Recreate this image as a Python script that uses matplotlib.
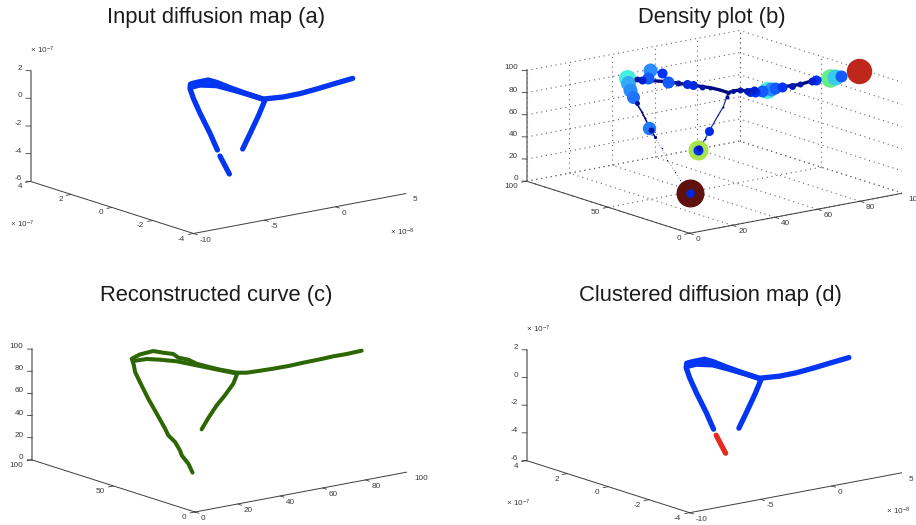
import numpy as np
import matplotlib
matplotlib.use('Agg')
import matplotlib.pyplot as plt
from matplotlib.colors import LinearSegmentedColormap
from mpl_toolkits.mplot3d import proj3d

plt.rcParams['font.family'] = ['Liberation Sans', 'DejaVu Sans']
plt.rcParams['mathtext.default'] = 'regular'

# diffusion map, panels (a) and (d), x in 1e-8, y and z in 1e-7
am_x = [-1.43, -1.09, -0.93, -0.54, 0.08, -0.51, -0.72, -0.54, -0.59, -0.29, 0.25, 0.78, 1.59, 2.16, 2.74, 3.31, 4.08]
am_y = [0.8, 1.4, 2.0, 2.6, 3.2, 2.76, 2.31, 1.87, 1.42, 0.98, 0.53, 0.09, -0.33, -0.75, -1.17, -1.58, -2.0]
am_z = [-3.88, -3.02, -1.89, -1.17, -0.85, -0.21, 0.16, 0.5, 0.55, 0.32, -0.01, -0.29, -0.1, 0.23, 0.65, 1.09, 1.55]
ab_x = [0.13, -0.17, 0.05, 0.27, 0.48, 0.56, -0.96, -2.58, -4.24]
ab_y = [3.2, 2.53, 1.87, 1.2, 0.53, -0.15, -0.9, -1.65, -2.4]
ab_z = [-0.78, -0.24, -0.02, -0.07, -0.15, -0.2, -0.65, -1.18, -1.76]
at_x = [-1.48, -1.16]
at_y = [0.64, 0.4]
at_z = [-4.23, -5.48]

# reconstructed curve, panel (c)
cm_x = [33.3, 34.3, 34.2, 36.4, 37.1, 36.9, 38.4, 37.5, 36.5, 35.6, 36.3, 38.8, 37.6, 38.5, 41.7, 43.4, 45.1,
        44.5, 46.2, 47.1, 48.8, 52.1, 57.2, 59.8, 64.0, 68.3, 74.0, 78.2, 84.0, 88.2, 92.4, 97.4]
cm_y = [45.0, 48.9, 52.8, 56.8, 60.7, 64.6, 68.5, 72.5, 76.4, 80.3, 84.2, 88.2, 87.9, 84.0, 80.1, 76.2, 72.3,
        68.4, 64.5, 60.6, 56.6, 52.7, 49.2, 46.5, 43.8, 41.1, 38.4, 35.8, 33.1, 30.4, 27.7, 25.0]
cm_z = [2.3, 8.2, 13.9, 15.8, 21.2, 25.5, 29.1, 41.2, 53.2, 66.7, 73.7, 76.9, 83.5, 88.9, 92.6, 92.3, 92.4, 91.1,
        90.5, 88.4, 87.2, 84.9, 82.0, 82.3, 83.8, 85.4, 87.3, 89.7, 91.9, 94.4, 96.2, 98.7]
cb_x = [39.9, 40.1, 40.2, 41.9, 43.6, 58.1, 50.9, 41.6, 32.4, 23.1, 14.6]
cb_y = [90.0, 82.0, 74.0, 66.0, 58.0, 50.0, 43.0, 36.0, 29.0, 22.0, 15.0]
cb_z = [79.6, 85.1, 88.2, 89.9, 90.0, 80.4, 77.3, 73.4, 71.0, 66.2, 62.3]

# density plot, panel (b)
b_x = [98.5, 92.6, 90.8, 89.2, 84.7, 83.3, 79.6, 76.9, 73.7, 71.6, 70.2, 68.9, 67.3, 65.2, 63.6, 64.7, 62.5,
       60.4, 58.2, 56.4, 52.5, 53.5, 51.9, 50.4, 49.1, 47.6, 45.7, 44.5, 42.3, 42.0, 40.7, 39.8, 38.0, 38.3, 39.3,
       38.8, 38.2, 38.0, 37.5, 36.4, 54.8, 48.4, 42.0, 29.9, 36.4, 36.5, 36.2, 35.9, 34.9, 34.8, 34.6, 35.1, 34.9,
       23.9, 15.5, 15.2, 16.7]
b_y = [25.0, 28.4, 29.5, 30.5, 33.2, 34.0, 36.3, 38.0, 39.9, 41.2, 42.1, 42.8, 43.8, 45.1, 46.1, 45.4, 46.7,
       48.0, 49.3, 50.0, 50.0, 57.4, 60.5, 63.6, 66.0, 69.1, 72.8, 75.3, 79.6, 80.2, 82.7, 84.6, 88.3, 87.7, 88.0,
       85.2, 82.5, 79.1, 76.4, 68.9, 48.9, 42.6, 37.3, 27.1, 72.3, 71.6, 68.6, 64.1, 59.3, 54.5, 51.1, 45.7, 45.7,
       21.8, 15.0, 15.0, 16.1]
b_z = [99.2, 95.5, 94.7, 93.9, 92.2, 91.4, 88.6, 87.6, 87.0, 85.6, 85.1, 84.3, 83.5, 83.1, 82.6, 84.6, 83.9,
       85.0, 84.2, 83.1, 86.9, 85.2, 85.2, 85.8, 85.7, 85.7, 86.1, 93.0, 94.7, 87.0, 84.8, 85.2, 84.7, 80.4, 73.8,
       69.3, 64.7, 58.9, 54.3, 41.7, 80.5, 76.8, 74.1, 68.8, 47.6, 46.4, 41.3, 33.6, 25.7, 17.4, 11.6, 1.9, 1.9,
       66.0, 62.6, 62.7, 63.2]
b_density = [82.3, 18.4, 32.7, 44.1, 12.8, 8.2, 4.6, 6.2, 12.8, 18.4, 25.0, 36.9, 18.4, 12.8, 10.3, 8.2, 6.2, 4.6,
             3.2, 2.0, 1.1, 2.0, 4.6, 10.3, 10.3, 4.6, 18.4, 12.8, 25.0, 18.4, 8.2, 4.6, 36.9, 28.7, 25.0, 21.6, 3.2,
             0.5, 0.5, 1.1, 2.0, 0.5, 0.2, 10.3, 22.9, 4.6, 1.1, 0.3, 0.1, 0.1, 0.1, 100.0, 9.4, 0.3, 51.0, 12.8, 4.6]

# order of the points in b_* along the arms, for the thin line under the discs
spine_main = list(range(1, 27)) + [30, 31, 32]
spine_top = [26, 27, 28]
spine_leg = [33, 34, 35, 36, 37, 38, 45, 39, 46]
spine_faint = [46, 47, 48, 49, 50, 51]
spine_short = [19, 40, 41, 42, 43, 53, 56]

map_xticks = [-10, -5, 0, 5]
map_yticks = [-4, -2, 0, 2, 4]
map_zticks = [-6, -4, -2, 0, 2]
pct_xticks = [0, 20, 40, 60, 80, 100]
pct_yticks = [0, 50, 100]
pct_zticks = [0, 20, 40, 60, 80, 100]

blue = '#0436f2'
red = '#e32b22'
green = '#2d6604'
navy = '#00087e'
axis_col = '#3c3c3c'
text_col = '#3a3a3a'

W, H = 916, 525
VIEW = 384.4  # side of the square 3d viewport, pixels

density_cmap = LinearSegmentedColormap.from_list('density', [
    (0.0, navy), (0.13, '#0033ff'), (0.25, '#2a8cff'), (0.37, '#44f0e0'),
    (0.44, '#66ee88'), (0.51, '#a8e54a'), (0.82, '#c1271d'), (1.0, '#5f120d')])


def panel(ox, oy):
    # ox, oy: pixel where the x and y axes meet
    left = ox + 25 - 197.4
    bottom = H - (oy - 101.45) - 197.4
    ax = fig.add_axes([left / W, bottom / H, VIEW / W, VIEW / H], projection='3d', proj_type='ortho')
    ax.view_init(elev=14.2, azim=-127.5)
    ax.set_box_aspect((268.5, 267.7, 114.2))
    ax.set_axis_off()
    ax.patch.set_visible(False)
    ax.computed_zorder = False
    return ax


def tick_text(ax, x, y, z, s, dx, dy, ha):
    X, Y, _ = proj3d.proj_transform(x, y, z, ax.get_proj())
    ax.annotate(s, (X, Y), xytext=(dx, -dy), textcoords='offset pixels', ha=ha, va='center',
                fontsize=5.9, color=text_col, annotation_clip=False)


def draw_box(ax, xt, yt, zt, grid=False):
    x0, x1 = xt[0], xt[-1]
    y0, y1 = yt[0], yt[-1]
    z0, z1 = zt[0], zt[-1]
    ax.set_xlim(x0, x1)
    ax.set_ylim(y0, y1)
    ax.set_zlim(z0, z1)
    kw = dict(color='#666666', lw=0.8, ls=(0, (1, 3.4)), zorder=1)
    if grid:
        for t in xt:
            ax.plot([t, t], [y0, y1], [z0, z0], **kw)
            ax.plot([t, t], [y1, y1], [z0, z1], **kw)
        for t in yt:
            ax.plot([x0, x1], [t, t], [z0, z0], **kw)
            ax.plot([x1, x1], [t, t], [z0, z1], **kw)
        for t in zt:
            ax.plot([x0, x1], [y1, y1], [t, t], **kw)
            ax.plot([x1, x1], [y0, y1], [t, t], **kw)
    ax.plot([x0, x1], [y0, y0], [z0, z0], color=axis_col, lw=0.7, zorder=2)
    ax.plot([x0, x0], [y0, y1], [z0, z0], color=axis_col, lw=0.7, zorder=2)
    ax.plot([x0, x0], [y1, y1], [z0, z1], color='#777777', lw=1.1, zorder=2)
    xs = (x1 - x0) * 0.023
    ys = (y1 - y0) * 0.023
    zs = (x1 - x0) * 0.012
    for t in xt:
        ax.plot([t, t], [y0, y0 - ys], [z0, z0], color=axis_col, lw=0.6, zorder=2)
        tick_text(ax, t, y0, z0, str(t), 6, 6.5, 'left')
    for t in yt:
        ax.plot([x0, x0 - xs], [t, t], [z0, z0], color=axis_col, lw=0.6, zorder=2)
        tick_text(ax, x0, t, z0, str(t), -8.5, 5.5, 'right')
    for t in zt:
        ax.plot([x0, x0 - zs], [y1, y1 + (y1 - y0) * 0.012], [t, t], color=axis_col, lw=0.6, zorder=2)
        tick_text(ax, x0, y1, t, str(t), -8.5, -2.5, 'right')


def exponents(dx, dy):
    for x, y, s in [(30, 50, '× 10$^{-7}$'), (10, 224, '× 10$^{-7}$'), (390, 232.5, '× 10$^{-8}$')]:
        fig.text((x + dx) / W, 1 - (y + dy) / H, s, fontsize=5.9, color=text_col, va='center')


def thick(ax, x, y, z, col, lw):
    ax.plot(x, y, z, color=col, lw=lw, solid_capstyle='round', solid_joinstyle='round', zorder=5)


def spine(ax, idx, col, lw, **kw):
    ax.plot([b_x[i] for i in idx], [b_y[i] for i in idx], [b_z[i] for i in idx], color=col, lw=lw, zorder=3, **kw)


fig = plt.figure(figsize=(W / 100, H / 100), dpi=100)

# (a)
ax = panel(193.5, 233.5)
thick(ax, am_x, am_y, am_z, blue, 3.8)
thick(ax, ab_x, ab_y, ab_z, blue, 3.8)
thick(ax, at_x, at_y, at_z, blue, 3.8)
draw_box(ax, map_xticks, map_yticks, map_zticks)
exponents(0, 0)

# (b)
ax = panel(689.7, 233.3)
spine(ax, spine_main, navy, 2.4)
spine(ax, spine_top, navy, 1.2)
spine(ax, spine_leg, navy, 1.1)
spine(ax, spine_short, '#1c2fa8', 0.9)
spine(ax, spine_faint, '#6f84d8', 0.7, ls=(0, (1, 2)))
order = np.argsort(b_density)[::-1]
for rank, i in enumerate(order):
    ax.scatter(b_x[i], b_y[i], b_z[i], s=4.06 * b_density[i], color=density_cmap(b_density[i] / 100),
               linewidths=0, depthshade=False, zorder=5 + rank * 0.01)
draw_box(ax, pct_xticks, pct_yticks, pct_zticks, grid=True)

# (c)
ax = panel(195.0, 512.0)
thick(ax, cm_x, cm_y, cm_z, green, 2.9)
thick(ax, cb_x, cb_y, cb_z, green, 2.9)
draw_box(ax, pct_xticks, pct_yticks, pct_zticks)

# (d) same map as (a), end of the long arm is its own cluster
ax = panel(689.7, 512.7)
thick(ax, am_x, am_y, am_z, blue, 3.8)
thick(ax, ab_x, ab_y, ab_z, blue, 3.8)
thick(ax, at_x, at_y, at_z, red, 3.8)
draw_box(ax, map_xticks, map_yticks, map_zticks)
exponents(496.2, 279.2)

titles = ['Input diffusion map (a)', 'Density plot (b)', 'Reconstructed curve (c)', 'Clustered diffusion map (d)']
title_x = [216, 712, 216, 710.5]
title_y = [22.7, 22.5, 301.3, 301.3]
for t, x, y in zip(titles, title_x, title_y):
    fig.text(x / W, 1 - y / H, t, ha='center', va='baseline', fontsize=15.85, color='#1c1c1c')

fig.savefig('out.png', dpi=100)
